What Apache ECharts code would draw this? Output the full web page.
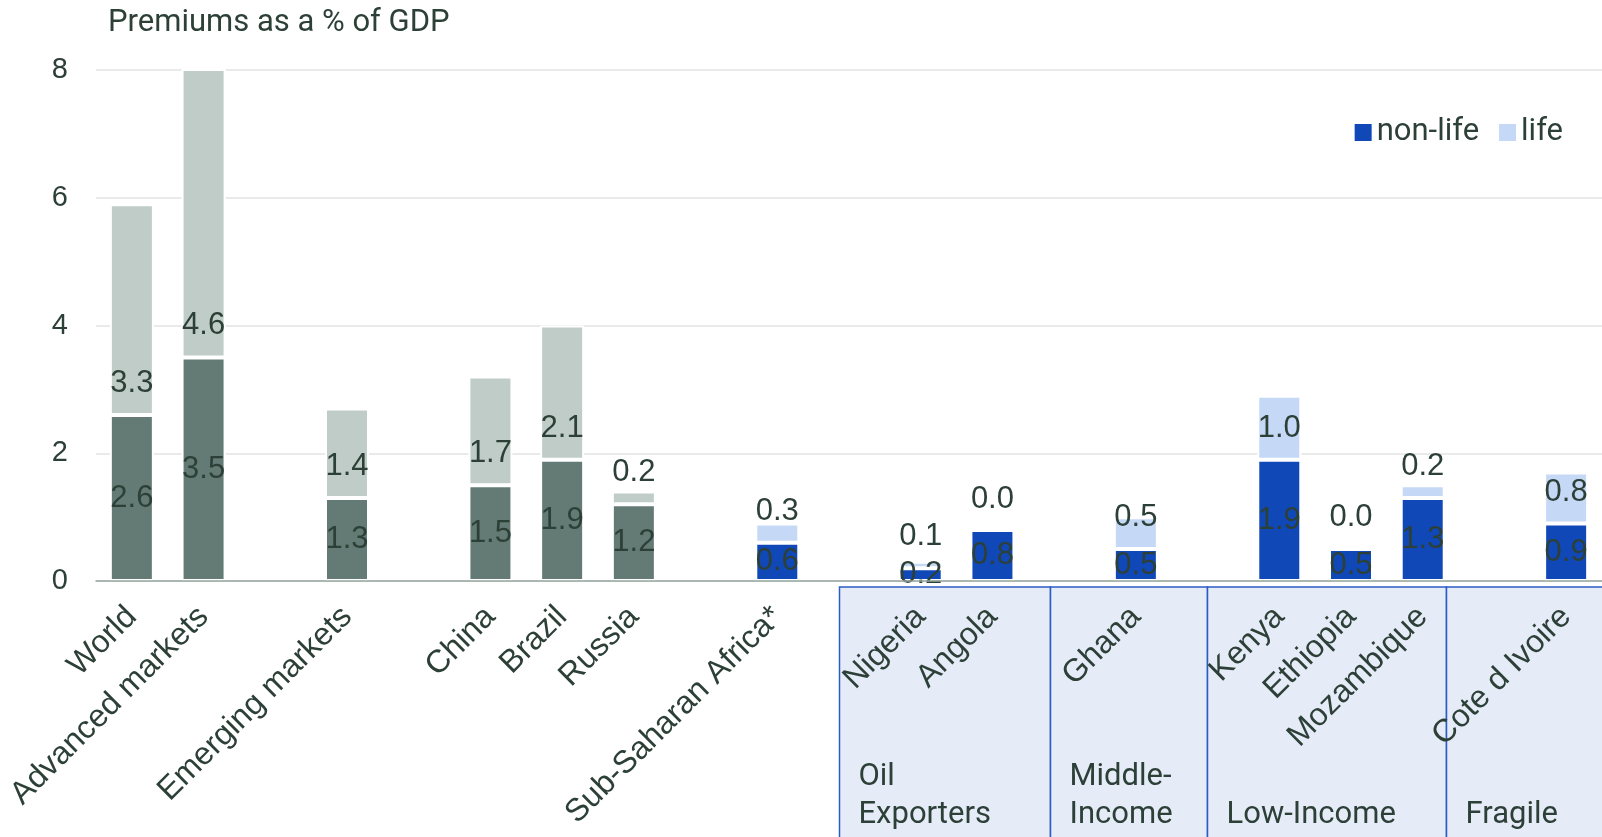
<!DOCTYPE html>
<html>
<head>
<meta charset="utf-8">
<script src="https://cdn.jsdelivr.net/npm/echarts@6/dist/echarts.min.js"></script>
<style>
  html, body { margin: 0; padding: 0; background: #ffffff; }
  #chart { width: 1602px; height: 837px; }
</style>
</head>
<body>
<div id="chart"></div>
<script>
// Insurance premiums as a share of GDP, split into non-life and life business.
// Empty category names are spacer slots between the comparison groups.
const categories = ['World', 'Advanced markets', '', 'Emerging markets', '', 'China', 'Brazil', 'Russia', '',
  'Sub-Saharan Africa*', '', 'Nigeria', 'Angola', '', 'Ghana', '', 'Kenya', 'Ethiopia', 'Mozambique', '', 'Cote d Ivoire'];
const nonLife = [2.6, 3.5, null, 1.3, null, 1.5, 1.9, 1.2, null, 0.6, null, 0.2, 0.8, null, 0.5, null, 1.9, 0.5, 1.3, null, 0.9];
const life    = [3.3, 4.6, null, 1.4, null, 1.7, 2.1, 0.2, null, 0.3, null, 0.1, 0.0, null, 0.5, null, 1.0, 0.04, 0.2, null, 0.8];

// Global benchmarks drawn in grey-green; African markets in blue.
const benchmarkCategories = ['World', 'Advanced markets', 'Emerging markets', 'China', 'Brazil', 'Russia'];
const yTicks = [0, 2, 4, 6, 8];

// Income groups shown as panels under the African country labels.
const groupNames = ['Oil\nExporters', 'Middle-\nIncome', 'Low-Income', 'Fragile'];

const TEXT = '#2d4038';
const COLORS = {
  nonLife: '#1048b8', life: '#c5d8f6',
  benchNonLife: '#637b74', benchLife: '#bfccc7'
};
const LABEL_FONT = "'Liberation Sans', Arial, sans-serif";
const HEAD_FONT = "Roboto, 'Noto Sans', sans-serif";

function items(values, blue, grey) {
  return values.map((v, i) => {
    if (v === null) return null;
    const isBench = benchmarkCategories.includes(categories[i]);
    return { value: v, itemStyle: { color: isBench ? grey : blue } };
  });
}

const chart = echarts.init(document.getElementById('chart'), null, { renderer: 'canvas' });

const baseLabel = {
  show: true,
  color: TEXT,
  fontFamily: LABEL_FONT,
  fontSize: 31,
  formatter: p => (p.value === null || p.value === undefined) ? '' : Number(p.value).toFixed(1)
};

chart.setOption({
  animation: false,
  title: {
    text: 'Premiums as a % of GDP',
    left: 103, top: 3,
    textStyle: { fontFamily: HEAD_FONT, fontSize: 31, fontWeight: 'normal', color: TEXT }
  },
  legend: {
    data: ['non-life', 'life'],
    right: 34, top: 112,
    icon: 'rect',
    itemWidth: 17, itemHeight: 17, itemGap: 20,
    itemStyle: { borderWidth: 0 },
    textStyle: { fontFamily: HEAD_FONT, fontSize: 31, color: TEXT }
  },
  grid: { left: 96, right: -3, top: 70, bottom: 256, containLabel: false },
  xAxis: {
    type: 'category',
    data: categories,
    z: 10,
    axisLine: { show: true, lineStyle: { color: '#95a69f', width: 1.5 } },
    axisTick: { show: false },
    axisLabel: {
      interval: 0, rotate: 45, margin: 31,
      color: TEXT, fontFamily: LABEL_FONT, fontSize: 32
    }
  },
  yAxis: {
    type: 'value',
    min: yTicks[0], max: yTicks[yTicks.length - 1], interval: yTicks[1] - yTicks[0],
    axisLine: { show: false },
    axisTick: { show: false },
    splitLine: { lineStyle: { color: '#e3e3e3', width: 1.5 } },
    axisLabel: { margin: 28, color: TEXT, fontFamily: LABEL_FONT, fontSize: 29 }
  },
  series: [
    {
      name: 'non-life', type: 'bar', stack: 'premiums',
      barWidth: 44,
      color: COLORS.nonLife,
      itemStyle: { borderColor: '#ffffff', borderWidth: 2 },
      label: Object.assign({}, baseLabel, { position: 'inside' }),
      data: items(nonLife, COLORS.nonLife, COLORS.benchNonLife)
    },
    {
      name: 'life', type: 'bar', stack: 'premiums',
      barWidth: 44,
      color: COLORS.life,
      itemStyle: { borderColor: '#ffffff', borderWidth: 2 },
      label: Object.assign({}, baseLabel, { position: 'insideBottom', distance: 16 }),
      data: items(life, COLORS.life, COLORS.benchLife)
    }
  ]
});

// Panels for the income groups, placed along the category axis.
const boxEdges = [9.86, 12.8, 14.99, 18.33, 21.6];
function drawGroups() {
  const x0 = chart.convertToPixel({ xAxisIndex: 0 }, 0);
  const step = chart.convertToPixel({ xAxisIndex: 0 }, 1) - x0;
  const top = chart.convertToPixel({ yAxisIndex: 0 }, 0) + 6;
  const h = chart.getHeight() - top + 10;
  const elements = [];
  groupNames.forEach((name, i) => {
    const xa = Math.round(x0 + boxEdges[i] * step) + 0.5;
    const xb = Math.round(x0 + boxEdges[i + 1] * step) + 0.5;
    elements.push({
      type: 'rect', z: -1,
      shape: { x: xa, y: top, width: xb - xa, height: h },
      style: { fill: '#e5ebf7', stroke: '#2a5cc4', lineWidth: 1.5 }
    });
    elements.push({
      type: 'text', z: 1,
      x: xa + 19, y: 834,
      style: {
        text: name, fill: TEXT, fontFamily: HEAD_FONT, fontSize: 31,
        lineHeight: 38, verticalAlign: 'bottom', align: 'left'
      }
    });
  });
  chart.setOption({ graphic: { elements } });
}
drawGroups();
</script>
</body>
</html>
